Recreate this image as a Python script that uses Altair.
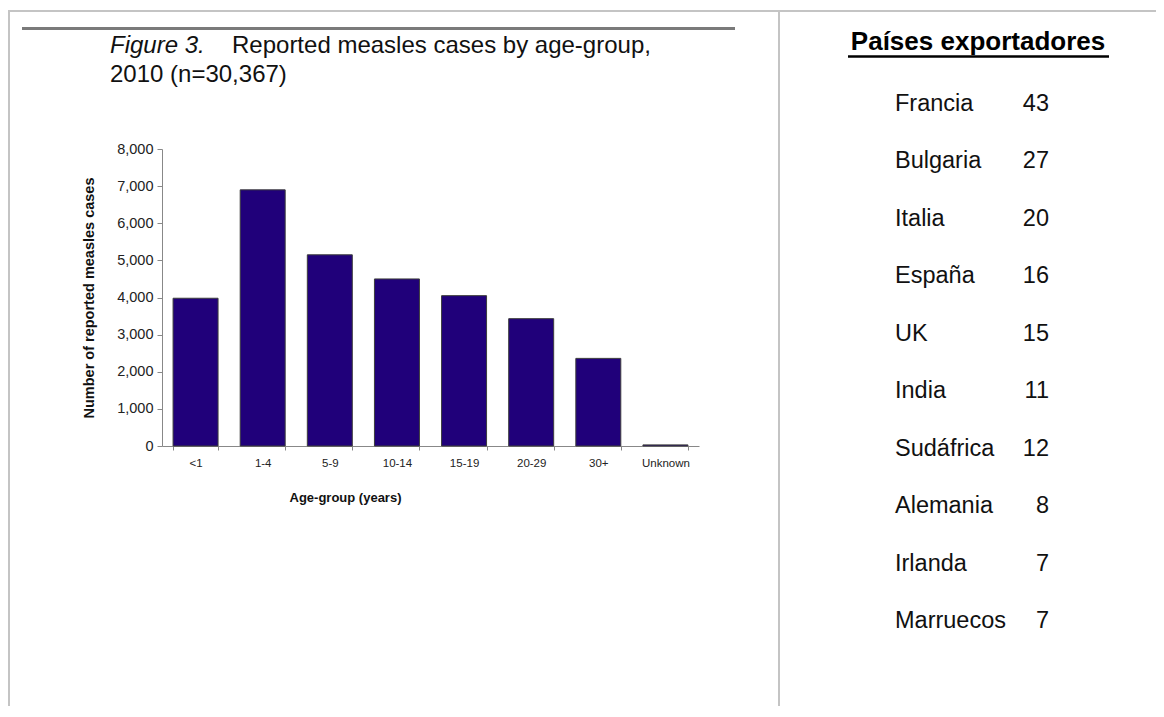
import altair as alt
import pandas as pd

# ---------------- data ----------------
age_groups = ["<1", "1-4", "5-9", "10-14", "15-19", "20-29", "30+", "Unknown"]
cases = [3980, 6900, 5150, 4500, 4050, 3430, 2360, 30]
y_ticks = [0, 1000, 2000, 3000, 4000, 5000, 6000, 7000, 8000]

countries = ["Francia", "Bulgaria", "Italia", "España", "UK", "India",
             "Sudáfrica", "Alemania", "Irlanda", "Marruecos"]
counts = [43, 27, 20, 16, 15, 11, 12, 8, 7, 7]

title_italic = "Figure 3."
title_rest = "Reported measles cases by age-group,"
title_line2 = "2010 (n=30,367)"
x_title = "Age-group (years)"
y_title = "Number of reported measles cases"
list_header = "Países exportadores"

# ---------------- layout ----------------
W, H = 1148, 698
FONT = "Liberation Sans, Arial, sans-serif"
one = alt.Data(values=[{}])

bars_df = pd.DataFrame({"age": age_groups, "cases": cases})
list_df = pd.DataFrame({"country": countries, "count": counts})

bars = alt.Chart(bars_df).mark_bar(
    color="#20007a", stroke="#3c3c3c", strokeWidth=1
).encode(
    x=alt.X("age:N", sort=age_groups,
            scale=alt.Scale(range=[154, 691], paddingInner=0.33, paddingOuter=0.165),
            axis=alt.Axis(title=x_title, orient="bottom", offset=-(H - 438),
                          labelAngle=0, tickBand="extent", tickSize=4,
                          tickColor="#888888", domainColor="#888888",
                          labelFont=FONT, labelFontSize=11.5, labelColor="#222222",
                          labelPadding=7, titleFont=FONT, titleFontSize=13,
                          titleFontWeight="bold", titleColor="#111111",
                          titleX=337, titleY=51, titleBaseline="middle",
                          titleAlign="center", grid=False)),
    y=alt.Y("cases:Q",
            scale=alt.Scale(domain=[0, 8000], range=[438, 141], nice=False),
            axis=alt.Axis(title=y_title, orient="left", offset=-154, values=y_ticks,
                          format=",d", tickSize=5, tickColor="#888888",
                          domainColor="#888888", labelFont=FONT, labelFontSize=14.5,
                          labelColor="#222222", labelPadding=4, titleFont=FONT,
                          titleFontSize=14.5, titleFontWeight="bold",
                          titleColor="#111111", titleX=-73, titleY=289.5,
                          titleBaseline="middle", grid=False)),
)

names = alt.Chart(list_df).mark_text(
    align="left", baseline="alphabetic", font=FONT, fontSize=23.5, color="#111111"
).encode(
    x=alt.value(887),
    y=alt.Y("country:N", sort=countries,
            scale=alt.Scale(type="point", range=[103, 620], padding=0), axis=None),
    text="country:N",
)

nums = alt.Chart(list_df).mark_text(
    align="right", baseline="alphabetic", font=FONT, fontSize=23.5, color="#111111"
).encode(
    x=alt.value(1041),
    y=alt.Y("country:N", sort=countries,
            scale=alt.Scale(type="point", range=[103, 620], padding=0), axis=None),
    text="count:Q",
)

def txt(s, x, y, **kw):
    return alt.Chart(one).mark_text(text=s, font=FONT, baseline="alphabetic", **kw).encode(
        x=alt.value(x), y=alt.value(y))

def rule(x, x2, y, y2, color, width):
    return alt.Chart(one).mark_rule(color=color, strokeWidth=width).encode(
        x=alt.value(x), x2=alt.value(x2), y=alt.value(y), y2=alt.value(y2))

deco = [
    rule(0, W, 3, 3, "#c4c4c4", 2),          # top border
    rule(1, 1, 3, H, "#c4c4c4", 2),          # left border
    rule(771, 771, 3, H, "#c4c4c4", 2),      # middle divider
    rule(14, 727, 20.5, 20.5, "#7a7a7a", 3),  # figure top line
    rule(840, 1101, 48.5, 48.5, "#000000", 2.5),  # header underline
]

texts = [
    txt(title_italic, 102, 45, align="left", fontSize=24, fontStyle="italic", color="#111111"),
    txt(title_rest, 224, 45, align="left", fontSize=24, color="#111111"),
    txt(title_line2, 102, 74, align="left", fontSize=24, color="#111111"),
    txt(list_header, 970, 42, align="center", fontSize=26, fontWeight="bold", color="#000000"),
]

chart = alt.layer(*deco, bars, names, nums, *texts).resolve_scale(
    x="independent", y="independent"
).properties(
    width=W, height=H, padding=0,
    autosize=alt.AutoSizeParams(type="none"),
    background="white",
).configure_view(stroke=None)

chart.save("out.html", embed_options={"renderer": "svg", "actions": False})
